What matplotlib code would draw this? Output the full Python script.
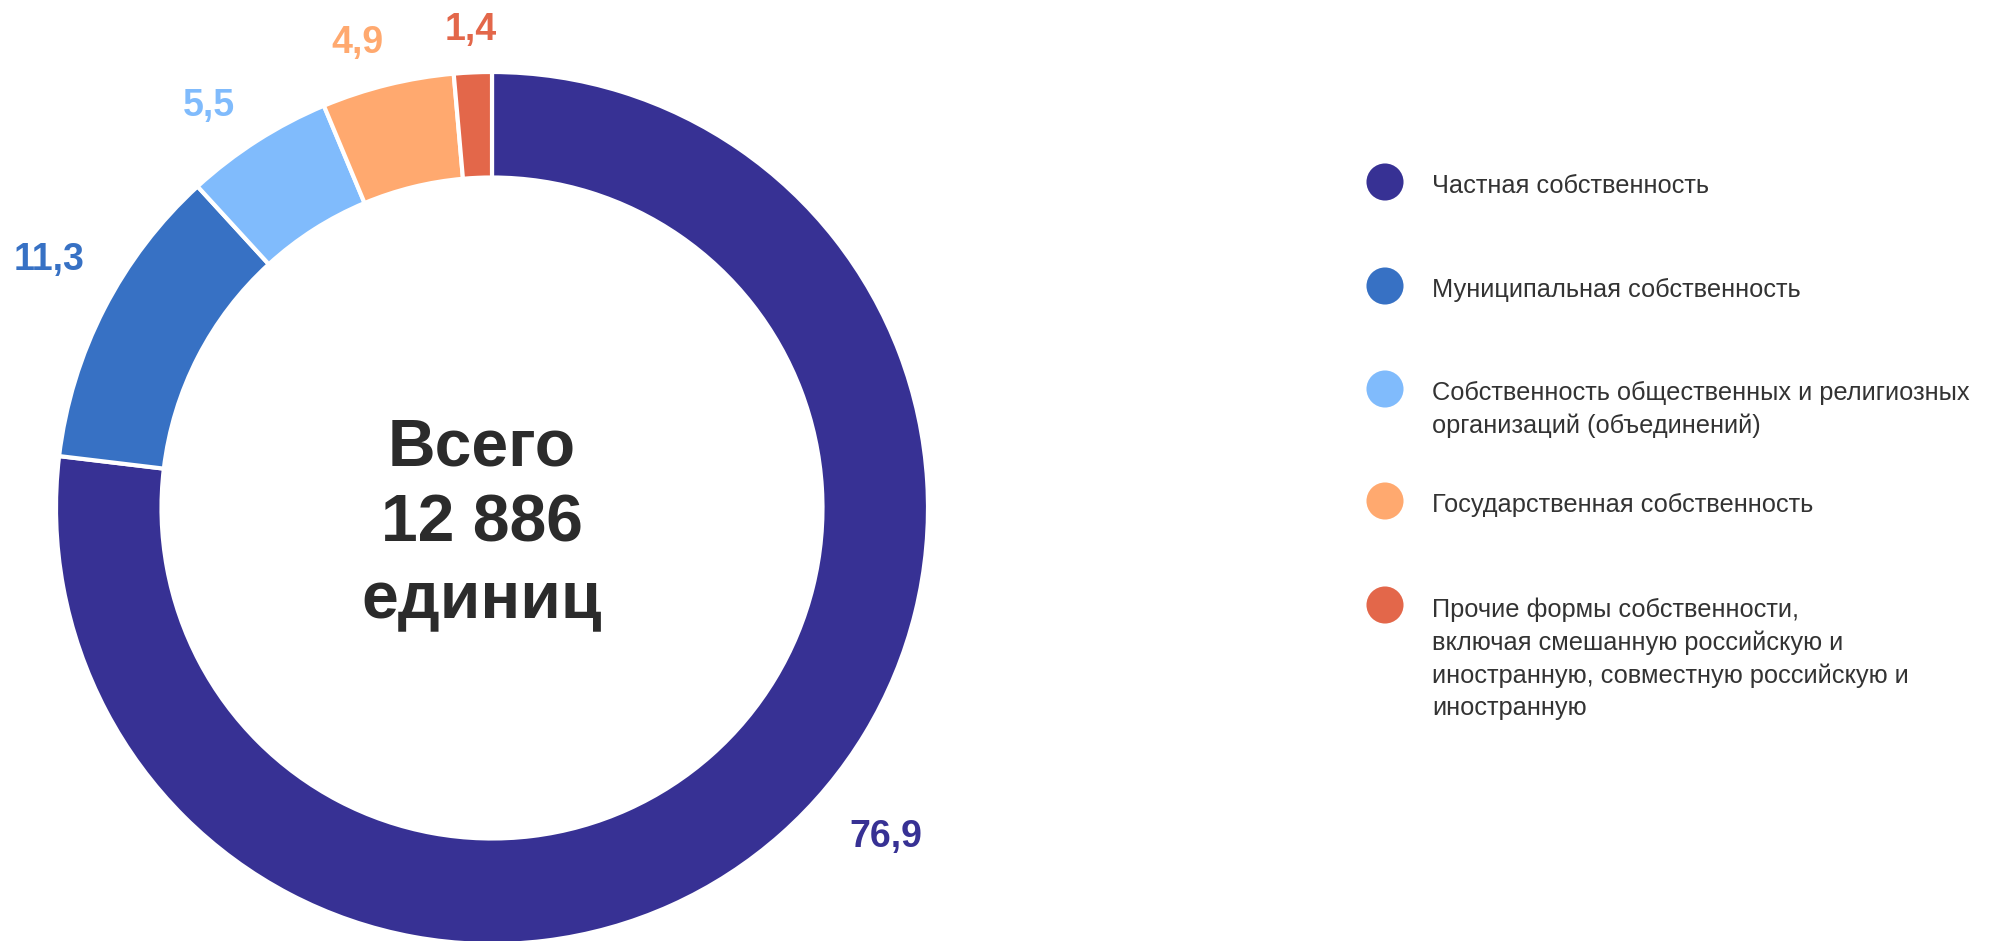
import numpy as np
import matplotlib
matplotlib.use('Agg')
import matplotlib.pyplot as plt

plt.rcParams['font.family'] = ['Liberation Sans', 'DejaVu Sans']

categories = ['Частная собственность',
              'Муниципальная собственность',
              'Собственность общественных и религиозных\nорганизаций (объединений)',
              'Государственная собственность',
              'Прочие формы собственности,\nвключая смешанную российскую и\nиностранную, совместную российскую и\nиностранную']
shares = [76.9, 11.3, 5.5, 4.9, 1.4]
value_labels = ['76,9', '11,3', '5,5', '4,9', '1,4']
colors = ['#373194', '#3771c4', '#80bbfc', '#ffa96f', '#e3674a']
total_lines = ['Всего', '12 886', 'единиц']

W, H = 1993, 941
fig = plt.figure(figsize=(W / 100, H / 100), dpi=100)
ax = fig.add_axes([0, 0, 1, 1])

cx, cy, R = 492, H - 508, 436
wedges, _ = ax.pie(shares, colors=colors, startangle=90, counterclock=False,
                   center=(cx, cy), radius=R,
                   wedgeprops=dict(width=R * 0.242, edgecolor='white', linewidth=3))
ax.set_xlim(0, W)
ax.set_ylim(0, H)
ax.set_aspect('auto')
ax.axis('off')

# value labels outside the ring, nearest edge ~38px from the ring
nudge = [9, -3, 2, 2, 0]
drop = [5, 9, 9, 9, 9]
for w, lab, c, dn, dd in zip(wedges, value_labels, colors, nudge, drop):
    ang = np.deg2rad((w.theta1 + w.theta2) / 2 + dn)
    hw = 9.5 * len(lab)
    r = R + 36 + abs(np.cos(ang)) * hw + abs(np.sin(ang)) * 14
    ax.text(cx + r * np.cos(ang), cy + r * np.sin(ang) - dd, lab, color=c,
            fontsize=27, fontweight='bold', ha='center', va='center')

# centre text
for t, dy in zip(total_lines, [43, -33, -110]):
    ax.text(cx - 10, cy + dy, t, fontsize=47.5, fontweight='bold',
            color='#2b2b2b', ha='center', va='baseline')

# legend
leg_y = [182, 286, 389, 501, 605]
for y, name, c in zip(leg_y, categories, colors):
    ax.scatter([1385], [H - y], s=37 ** 2 * 0.52, color=c, edgecolors='none')
    ax.text(1432, H - y + 8, name, fontsize=18.3, color='#333333',
            ha='left', va='top', linespacing=1.44)

fig.savefig('out.png', dpi=100, facecolor='white')
